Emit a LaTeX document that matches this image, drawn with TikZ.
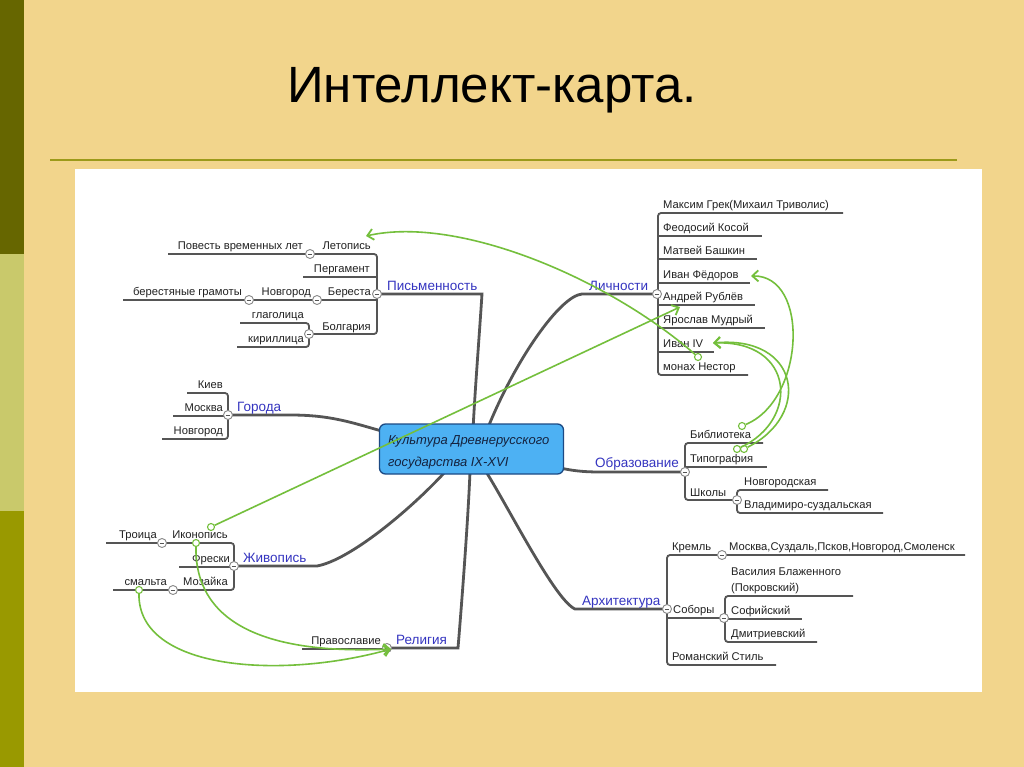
\documentclass[tikz,border=0pt]{standalone}
\usepackage{fontspec}
\setmainfont{Liberation Sans}
\usetikzlibrary{arrows.meta}
\definecolor{bg}{HTML}{F2D58C}
\definecolor{stripa}{HTML}{666600}
\definecolor{stripb}{HTML}{C9C96B}
\definecolor{stripc}{HTML}{999900}
\definecolor{rulec}{HTML}{9C9A1A}
\definecolor{linec}{HTML}{555555}
\definecolor{bluet}{HTML}{3535C0}
\definecolor{greenc}{HTML}{74BF3C}
\definecolor{boxfill}{HTML}{4DB1F3}
\definecolor{boxdraw}{HTML}{1C4A84}
\definecolor{textc}{HTML}{222222}
\definecolor{roottext}{HTML}{15233F}
\tikzset{
  lf/.style={anchor=base west, inner sep=0pt, font=\fontsize{11.2}{13}\selectfont, text=textc},
  lfr/.style={lf, anchor=base east},
  br/.style={anchor=base west, inner sep=0pt, font=\fontsize{13.5}{15}\selectfont, text=bluet},
  ln/.style={draw=linec, line width=1.8pt, rounded corners=3pt},
  mainln/.style={draw=linec, line width=2.8pt},
  tog/.style={circle, draw=linec!70, fill=white, line width=0.9pt, minimum size=9pt, inner sep=0pt,
    path picture={\draw[linec, line width=0.9pt] ([xshift=-2.4pt]path picture bounding box.center) -- ([xshift=2.4pt]path picture bounding box.center);}},
  gdot/.style={circle, draw=greenc, fill=white, line width=1.1pt, minimum size=7pt, inner sep=0pt},
  garr/.style={draw=greenc, line width=1.6pt, -{Straight Barb[length=6pt,width=11pt,line width=1.8pt]}},
}
\begin{document}
\begin{tikzpicture}[x=1pt,y=-1pt]
\useasboundingbox (0,0) rectangle (1024,767);
% background
\fill[bg] (0,0) rectangle (1024,767);
\fill[stripa] (0,0) rectangle (24,254);
\fill[stripb] (0,254) rectangle (24,511);
\fill[stripc] (0,511) rectangle (24,767);
\draw[rulec, line width=2.5pt] (50,160) -- (957,160);
\fill[white] (75,169) rectangle (982,692);
\node (title) [anchor=base west, inner sep=0pt, font=\fontsize{51}{60}\selectfont] at (287,103) {Интеллект-карта.};

% ---------- main branches ----------
\coordinate (rootc) at (471.5,449);
\draw[mainln] (377,294) -- (482,294) .. controls (479,340) and (475,390) .. (473,430);
\draw[mainln] (657,294) -- (582,294) .. controls (560,296) and (515,360) .. (487,430);
\draw[mainln] (228,415) -- (290,415) .. controls (330,415) and (350,422) .. (385,432);
\draw[mainln] (685,472) -- (600,472) .. controls (580,472) and (570,470) .. (560,468);
\draw[mainln] (667,609) -- (575,609) .. controls (555,600) and (510,510) .. (485,470);
\draw[mainln] (234,566) -- (317,566) .. controls (350,560) and (410,510) .. (445,472);
\draw[mainln] (387,648) -- (458,648) .. controls (462,600) and (468,520) .. (470,472);

\node (root) [draw=boxdraw, fill=boxfill, line width=1.3pt, rounded corners=6pt,
  minimum width=184pt, minimum height=50pt] at (rootc) {};
\node (rt1) [anchor=base west, inner sep=0pt, font=\itshape\fontsize{13}{15}\selectfont, text=roottext] at (388,444) {Культура Древнерусского};
\node (rt2) [anchor=base west, inner sep=0pt, font=\itshape\fontsize{13}{15}\selectfont, text=roottext] at (388,466) {государства IX-XVI};

% ---------- Письменность ----------
\draw[ln] (168,254) -- (377,254) -- (377,334) -- (309,334);
\draw[ln] (303,277) -- (377,277);
\draw[ln] (123,300) -- (377,300);
\draw[ln] (240,323) -- (309,323) -- (309,347) -- (237,347);
\node (pis) [br] at (387,290) {Письменность};
\node (let) [lfr] at (371,249.5) {Летопись};
\node (pov) [lfr] at (303,249.5) {Повесть временных лет};
\node (per) [lfr] at (370,272.5) {Пергамент};
\node (ber) [lfr] at (371,295.5) {Береста};
\node (nov) [lfr] at (311,295.5) {Новгород};
\node (bgr) [lfr] at (242,295.5) {берестяные грамоты};
\node (bol) [lfr] at (371,330) {Болгария};
\node (gla) [lfr] at (304,318.5) {глаголица};
\node (kir) [lfr] at (304,342.5) {кириллица};
\node (tpis) [tog] at (377,294) {};
\node (tlet) [tog] at (310,254) {};
\node (tber) [tog] at (317,300) {};
\node (tnov) [tog] at (249,300) {};
\node (tbol) [tog] at (309,334) {};

% ---------- Личности ----------
\draw[ln] (843,213) -- (658,213) -- (658,375) -- (748,375);
\draw[ln] (658,236) -- (762,236);
\draw[ln] (658,259) -- (757,259);
\draw[ln] (658,283) -- (750,283);
\draw[ln] (658,305) -- (755,305);
\draw[ln] (658,328) -- (765,328);
\draw[ln] (658,352) -- (714,352);
\node (lic) [br] at (589,290) {Личности};
\node (p1) [lf] at (663,208.5) {Максим Грек(Михаил Триволис)};
\node (p2) [lf] at (663,231.5) {Феодосий Косой};
\node (p3) [lf] at (663,254.5) {Матвей Башкин};
\node (p4) [lf] at (663,278.5) {Иван Фёдоров};
\node (p5) [lf] at (663,300.5) {Андрей Рублёв};
\node (p6) [lf] at (663,323.5) {Ярослав Мудрый};
\node (p7) [lf] at (663,347.5) {Иван IV};
\node (p8) [lf] at (663,370.5) {монах Нестор};
\node (tlic) [tog] at (657,294) {};

% ---------- Города ----------
\draw[ln] (187,393) -- (228,393) -- (228,439) -- (162,439);
\draw[ln] (173,416) -- (228,416);
\node (gor) [br] at (237,411) {Города};
\node (kiev) [lfr] at (223,388.5) {Киев};
\node (mos) [lfr] at (223,411.5) {Москва};
\node (nvg) [lfr] at (223,434.5) {Новгород};
\node (tgor) [tog] at (228,415) {};

% ---------- Образование ----------
\draw[ln] (763,443) -- (685,443) -- (685,500) -- (737,500);
\draw[ln] (685,467) -- (767,467);
\draw[ln] (828,490) -- (737,490) -- (737,513) -- (883,513);
\node (obr) [br] at (595,467.5) {Образование};
\node (bib) [lf] at (690,438.5) {Библиотека};
\node (tip) [lf] at (690,462.5) {Типография};
\node (shk) [lf] at (690,496) {Школы};
\node (nvs) [lf] at (744,485.5) {Новгородская};
\node (vls) [lf] at (744,508.5) {Владимиро-суздальская};
\node (tobr) [tog] at (685,472) {};
\node (tshk) [tog] at (737,500) {};

% ---------- Архитектура ----------
\draw[ln] (965,555) -- (667,555) -- (667,665) -- (776,665);
\draw[ln] (667,618) -- (723,618);
\draw[ln] (853,596) -- (725,596) -- (725,642) -- (817,642);
\draw[ln] (725,619) -- (802,619);
\node (arh) [br] at (582,605.5) {Архитектура};
\node (kre) [lf] at (672,550.5) {Кремль};
\node (krc) [lf] at (729,550.5) {Москва,Суздаль,Псков,Новгород,Смоленск};
\node (sob) [lf] at (673,613.5) {Соборы};
\node (vas1) [lf] at (731,575.5) {Василия Блаженного};
\node (vas2) [lf] at (731,591.5) {(Покровский)};
\node (sof) [lf] at (731,614.5) {Софийский};
\node (dmi) [lf] at (731,637.5) {Дмитриевский};
\node (rom) [lf] at (672,660.5) {Романский Стиль};
\node (tarh) [tog] at (667,609) {};
\node (tkre) [tog] at (722,555) {};
\node (tsob) [tog] at (724,618) {};

% ---------- Живопись ----------
\draw[ln] (106,543) -- (234,543) -- (234,590) -- (113,590);
\draw[ln] (179,567) -- (234,567);
\node (jiv) [br] at (243,562.5) {Живопись};
\node (iko) [lfr] at (228,538.5) {Иконопись};
\node (tro) [lfr] at (157,538.5) {Троица};
\node (fre) [lfr] at (230,562.5) {Фрески};
\node (moz) [lfr] at (228,585.5) {Мозайка};
\node (sma) [lfr] at (167,585.5) {смальта};
\node (tjiv) [tog] at (234,566) {};
\node (tiko) [tog] at (162,543) {};
\node (tmoz) [tog] at (173,590) {};

% ---------- Религия ----------
\draw[ln] (302,649) -- (387,649);
\node (rel) [br] at (396,644) {Религия};
\node (pra) [lfr] at (381,644) {Православие};
\node (trel) [tog] at (387,648) {};

% ---------- green relations ----------
\coordinate (aLet) at (366,236);
\coordinate (aRub) at (680,307);
\coordinate (aRel) at (391,649);
\coordinate (aFed) at (751,276);
\coordinate (aIv) at (713,343);
\node (g1) [gdot] at (698,357) {};
\node (g2) [gdot] at (211,527) {};
\node (g3) [gdot] at (196,543) {};
\node (g4) [gdot] at (139,590) {};
\node (g5) [gdot] at (742,426) {};
\node (g6) [gdot] at (737,449) {};
\node (g7) [gdot] at (744,449) {};
\draw[garr] (g1) .. controls (610,280) and (460,215) .. (aLet);
\draw[garr] (g2) -- (aRub);
\draw[garr] (g3) .. controls (195,620) and (260,655) .. (aRel);
\draw[garr] (g4) .. controls (138,670) and (280,680) .. (aRel);
\draw[garr] (g5) .. controls (805,400) and (810,275) .. (aFed);
\draw[garr] (g6) .. controls (800,420) and (795,340) .. (aIv);
\draw[garr] (g7) .. controls (812,415) and (800,335) .. (aIv);
\end{tikzpicture}
\end{document}
